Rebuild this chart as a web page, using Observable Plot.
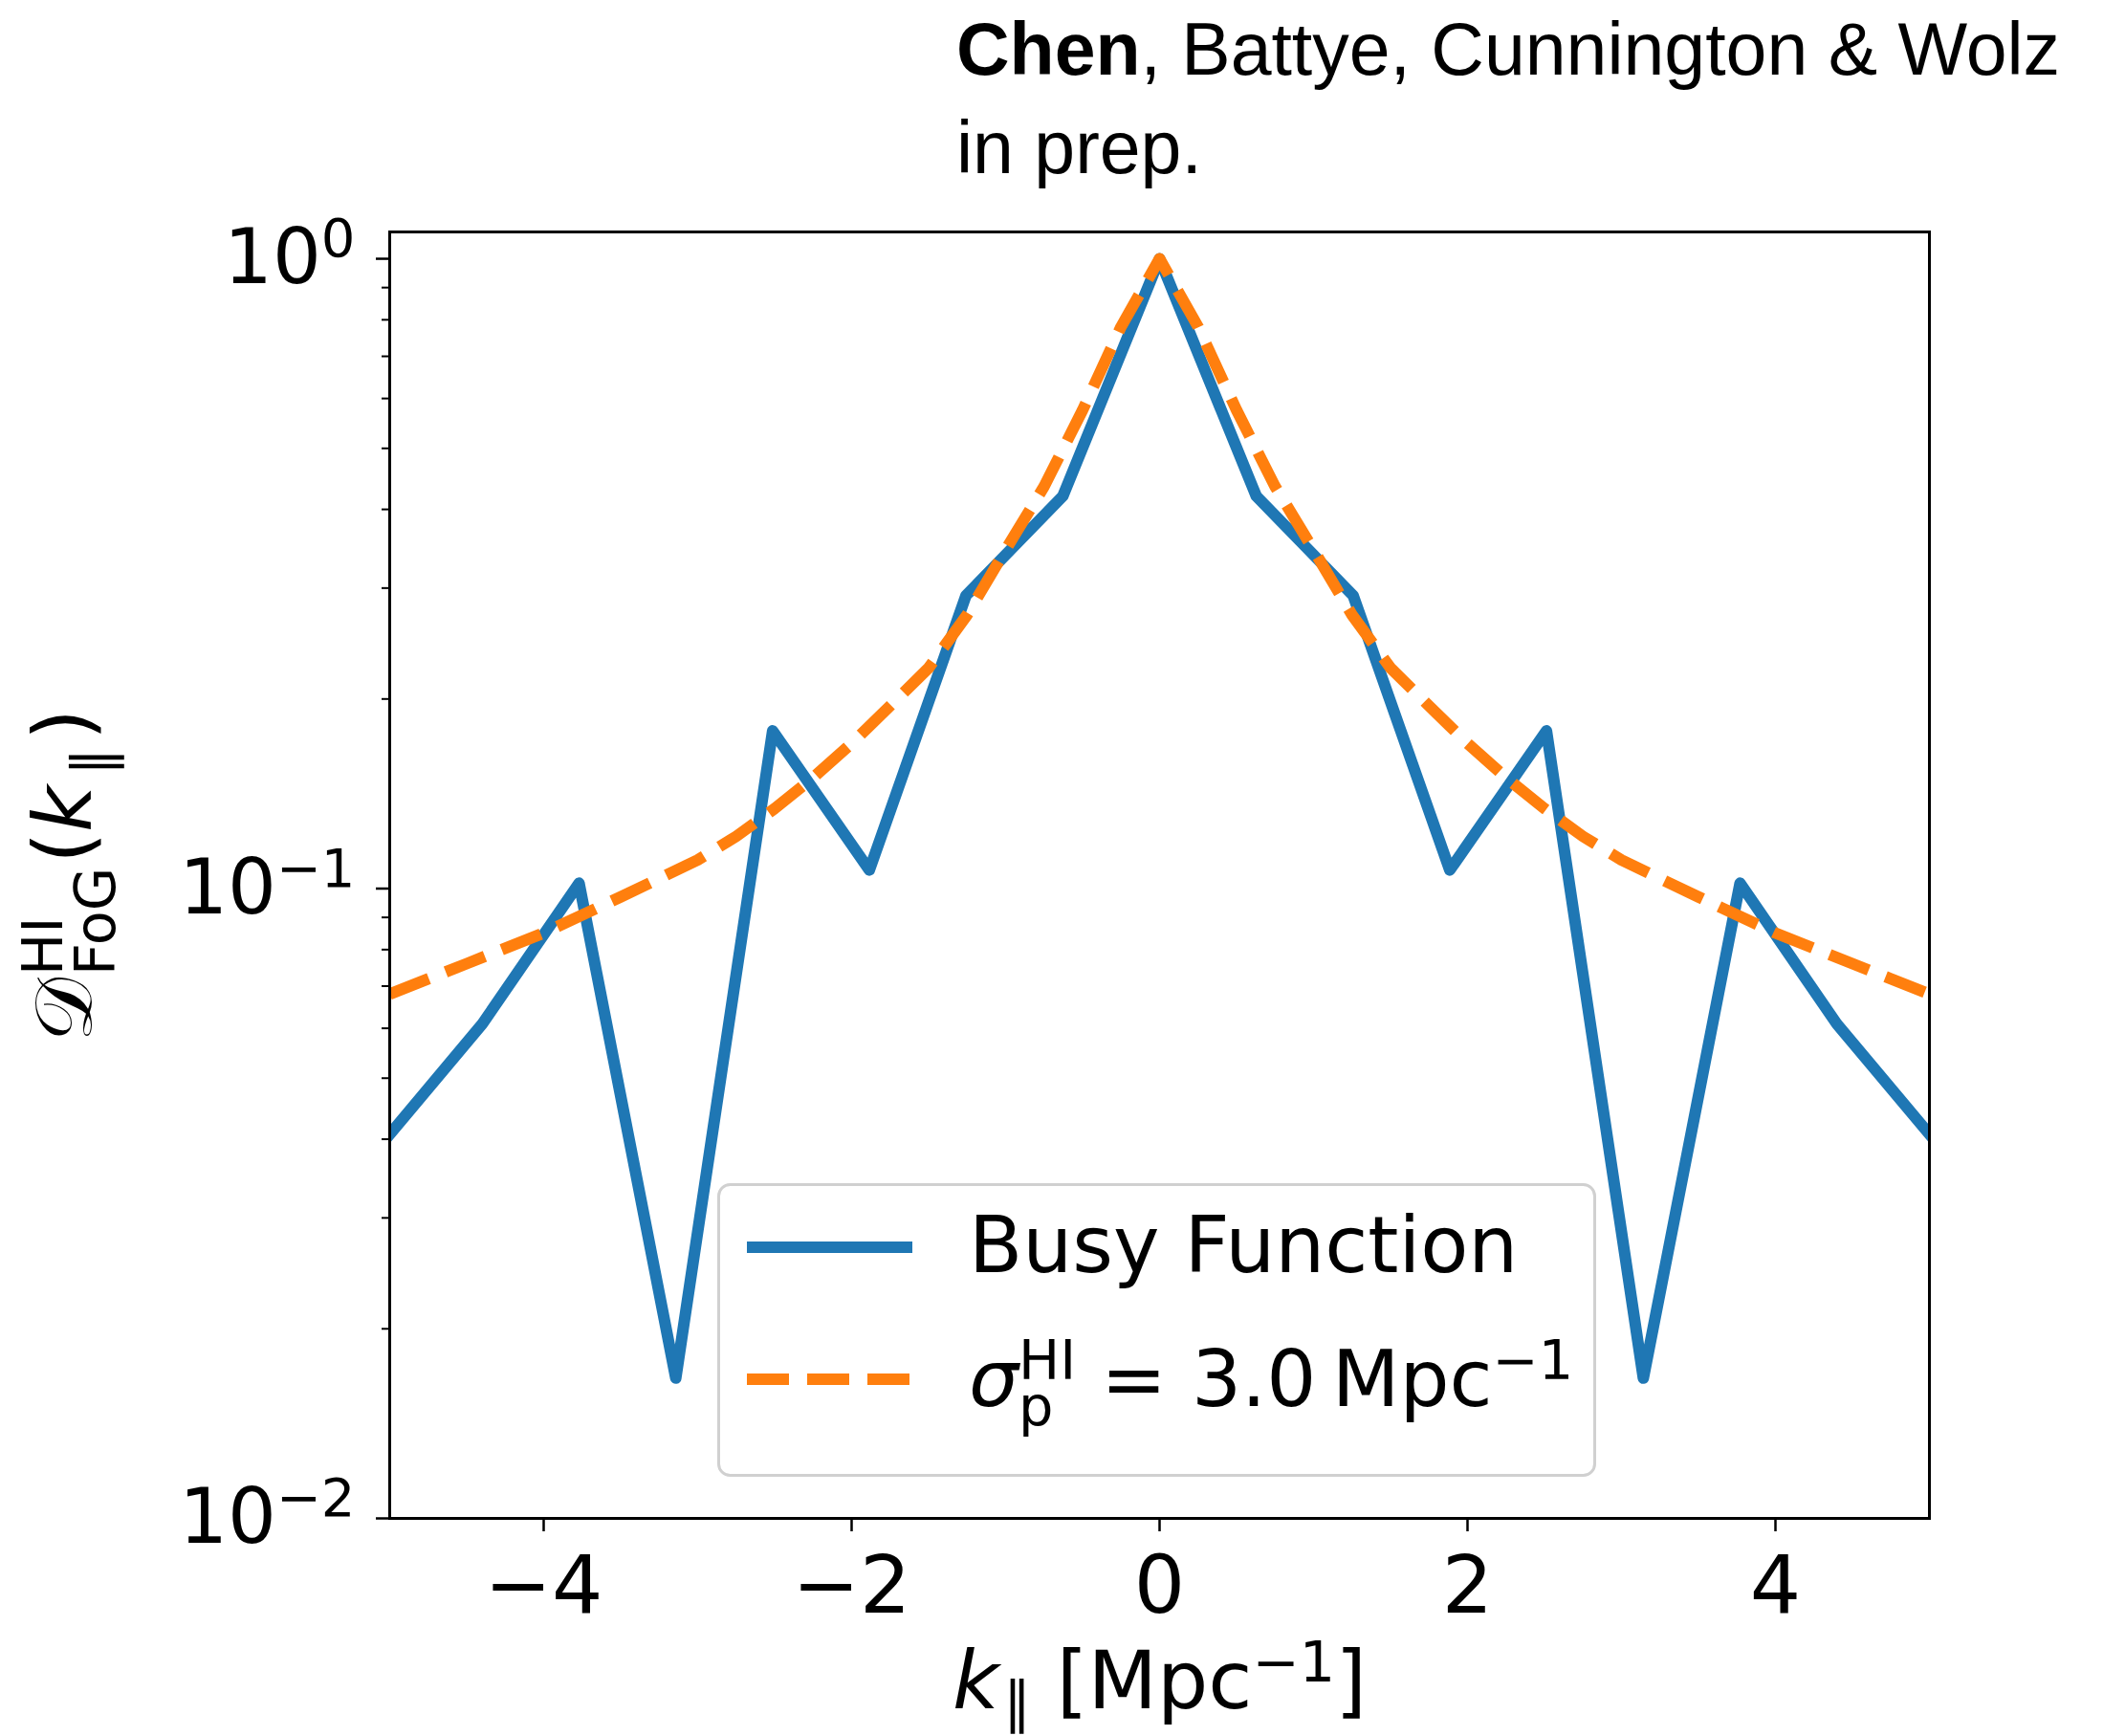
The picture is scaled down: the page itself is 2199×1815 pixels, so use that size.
<!DOCTYPE html>
<html>
<head>
<meta charset="utf-8">
<script src="https://cdn.jsdelivr.net/npm/d3@7"></script>
<script src="https://cdn.jsdelivr.net/npm/@observablehq/plot@0.6"></script>
<style>
  html, body { margin: 0; padding: 0; background: #fff; }
  body { position: relative; width: 2199px; height: 1815px; overflow: hidden; color: #000; }
  #credit { position: absolute; left: 1000px; top: 0; font-family: "Liberation Sans", Arial, sans-serif; font-size: 77px; line-height: 103px; white-space: nowrap; }
  #chart { position: absolute; left: 0; top: 200px; }
  #legend { position: absolute; left: 750px; top: 1237px; overflow: visible; }
</style>
</head>
<body>
<div id="credit"><b>Chen</b>, Battye, Cunnington &amp; Wolz<br>in prep.</div>
<div id="chart"></div>
<svg id="legend" width="920" height="308"></svg>
<script>
// Busy-function damping sampled at k = nπ/5
const busyK = [-5.027, -4.398, -3.770, -3.142, -2.513, -1.885, -1.257, -0.628, 0,
               0.628, 1.257, 1.885, 2.513, 3.142, 3.770, 4.398, 5.027];
const busyD = [0.040, 0.061, 0.102, 0.0167, 0.178, 0.107, 0.292, 0.42, 1.0,
               0.42, 0.292, 0.107, 0.178, 0.0167, 0.102, 0.061, 0.040];

// Fingers-of-God damping for sigma_p = 3.0 Mpc^-1
const sigmaK = [-5, -4.5, -4, -3.5, -3, -2.75, -2.5, -2.25, -2, -1.75, -1.5, -1.25, -1, -0.75, -0.5, -0.25, 0,
                0.25, 0.5, 0.75, 1, 1.25, 1.5, 1.75, 2, 2.25, 2.5, 2.75, 3, 3.5, 4, 4.5, 5];
const sigmaD = [0.068, 0.076, 0.085, 0.097, 0.111, 0.121, 0.134, 0.150, 0.170, 0.195, 0.224, 0.272, 0.345, 0.435, 0.575, 0.78, 1.0,
                0.78, 0.575, 0.435, 0.345, 0.272, 0.224, 0.195, 0.170, 0.150, 0.134, 0.121, 0.111, 0.097, 0.085, 0.076, 0.068];

const xTicks = [-4, -2, 0, 2, 4];
const yMajorTicks = [0.01, 0.1, 1];
const yMinorTicks = [0.02, 0.03, 0.04, 0.05, 0.06, 0.07, 0.08, 0.09,
                     0.2, 0.3, 0.4, 0.5, 0.6, 0.7, 0.8, 0.9];

const busy = busyK.map((k, i) => ({k, d: busyD[i]}));
const sigma = sigmaK.map((k, i) => ({k, d: sigmaD[i]}));

const BLUE = "#1f77b4", ORANGE = "#ff7f0e";
const LW = 12, DASH = "44,19";
const FONT = "'DejaVu Sans', sans-serif";

const minus = v => String(v).replace("-", "\u2212");

const plot = Plot.plot({
  width: 2199, height: 1615,
  marginTop: 42, marginBottom: 228, marginLeft: 407, marginRight: 182,
  style: {fontFamily: FONT, fontSize: "80px", color: "#000", background: "transparent", overflow: "visible"},
  x: {domain: [-5, 5]},
  y: {type: "log", domain: [0.01, 1.103]},
  marks: [
    Plot.line(busy, {x: "k", y: "d", stroke: BLUE, strokeWidth: LW, strokeLinejoin: "round", clip: true}),
    Plot.line(sigma, {x: "k", y: "d", stroke: ORANGE, strokeWidth: LW, strokeDasharray: DASH, strokeLinecap: "butt", clip: true}),
    Plot.frame({stroke: "#000", strokeWidth: 3}),
    Plot.axisX({ticks: xTicks, tickSize: 14, tickPadding: 25, strokeWidth: 2.5, tickFormat: minus,
                label: "k|| [Mpc^-1]", labelAnchor: "center", labelOffset: 198, labelArrow: "none", fontSize: 84}),
    Plot.axisY({ticks: yMajorTicks, tickSize: 14, tickPadding: 22, strokeWidth: 2.5,
                tickFormat: d => "10^" + minus(Math.round(Math.log10(d))),
                label: "D(k)", labelAnchor: "center", labelOffset: 372, labelArrow: "none"}),
    Plot.axisY({ticks: yMinorTicks, tickSize: 8, strokeWidth: 2, tickFormat: () => "", label: null})
  ]
});
document.getElementById("chart").appendChild(plot);

// --- rich text (superscripts / subscripts) for axis texts ---
const NS = "http://www.w3.org/2000/svg";
function span(parent, str, attrs = {}) {
  const t = document.createElementNS(NS, "tspan");
  t.textContent = str;
  for (const [k, v] of Object.entries(attrs)) t.setAttribute(k, v);
  parent.appendChild(t);
  return t;
}
function labelText(name) {
  const g = plot.querySelector(`[aria-label="${name}"]`);
  if (!g) return null;
  return g.tagName.toLowerCase() === "text" ? g : g.querySelector("text");
}

plot.querySelectorAll('[aria-label="y-axis tick label"] text').forEach(t => {
  const parts = t.textContent.split("^");
  if (parts.length < 2) return;
  t.textContent = "";
  span(t, parts[0]);
  span(t, parts[1], {"font-size": "0.7em", dy: -28});
});

const SUB = 20, SUP = 28;
const xl = labelText("x-axis label");
if (xl) {
  xl.textContent = "";
  xl.setAttribute("font-size", 84);
  span(xl, "k", {"font-style": "italic"});
  span(xl, "\u2225", {"font-size": "0.7em", dy: 14, dx: 4});
  span(xl, " [Mpc", {dy: -14});
  span(xl, "\u2212" + "1", {"font-size": "0.7em", dy: -SUP});
  span(xl, "]", {dy: SUP});
}

const yl = labelText("y-axis label");
if (yl) {
  yl.textContent = "";
  yl.setAttribute("font-size", 84);
  span(yl, "\u{1D49F}");
  const sub = span(yl, "FoG", {"font-size": "0.7em", dy: 25, dx: 2});
  const sup = span(yl, "HI", {"font-size": "0.7em"});
  const paren = span(yl, "(");
  span(yl, "k", {"font-style": "italic"});
  span(yl, "\u2225", {"font-size": "0.7em", dy: 22, dx: 10});
  span(yl, ")", {dy: -22, dx: 8});
  const wSub = sub.getComputedTextLength(), wSup = sup.getComputedTextLength();
  sup.setAttribute("dx", -wSub);
  sup.setAttribute("dy", -(25 + 30));
  paren.setAttribute("dx", wSub - wSup + 4);
  paren.setAttribute("dy", 30);
}

// --- legend ---
const leg = d3.select("#legend");
leg.append("rect")
  .attr("x", 1.5).attr("y", 1.5).attr("width", 916).attr("height", 304).attr("rx", 12)
  .attr("fill", "white").attr("fill-opacity", 0.8)
  .attr("stroke", "#d0d0d0").attr("stroke-width", 3);
leg.append("line")
  .attr("x1", 31).attr("x2", 204).attr("y1", 67).attr("y2", 67)
  .attr("stroke", BLUE).attr("stroke-width", LW);
leg.append("line")
  .attr("x1", 31).attr("x2", 204).attr("y1", 205).attr("y2", 205)
  .attr("stroke", ORANGE).attr("stroke-width", LW).attr("stroke-dasharray", DASH);
leg.append("text")
  .attr("x", 263).attr("y", 93)
  .attr("font-family", FONT).attr("font-size", 82)
  .text("Busy Function");
const st = leg.append("text")
  .attr("x", 263).attr("y", 233)
  .attr("font-family", FONT).attr("font-size", 82);
const stNode = st.node();
span(stNode, "\u03C3", {"font-style": "italic"});
const pSub = span(stNode, "p", {"font-size": "0.7em", dy: SUB});
const hiSup = span(stNode, "HI", {"font-size": "0.7em"});
const eq = span(stNode, " = 3.0\u2009Mpc");
span(stNode, "\u2212" + "1", {"font-size": "0.7em", dy: -SUP});
const wp = pSub.getComputedTextLength(), whi = hiSup.getComputedTextLength();
hiSup.setAttribute("dx", -wp);
hiSup.setAttribute("dy", -(SUB + SUP));
eq.setAttribute("dy", SUP);
eq.setAttribute("dx", Math.max(0, wp - whi));
</script>
</body>
</html>
